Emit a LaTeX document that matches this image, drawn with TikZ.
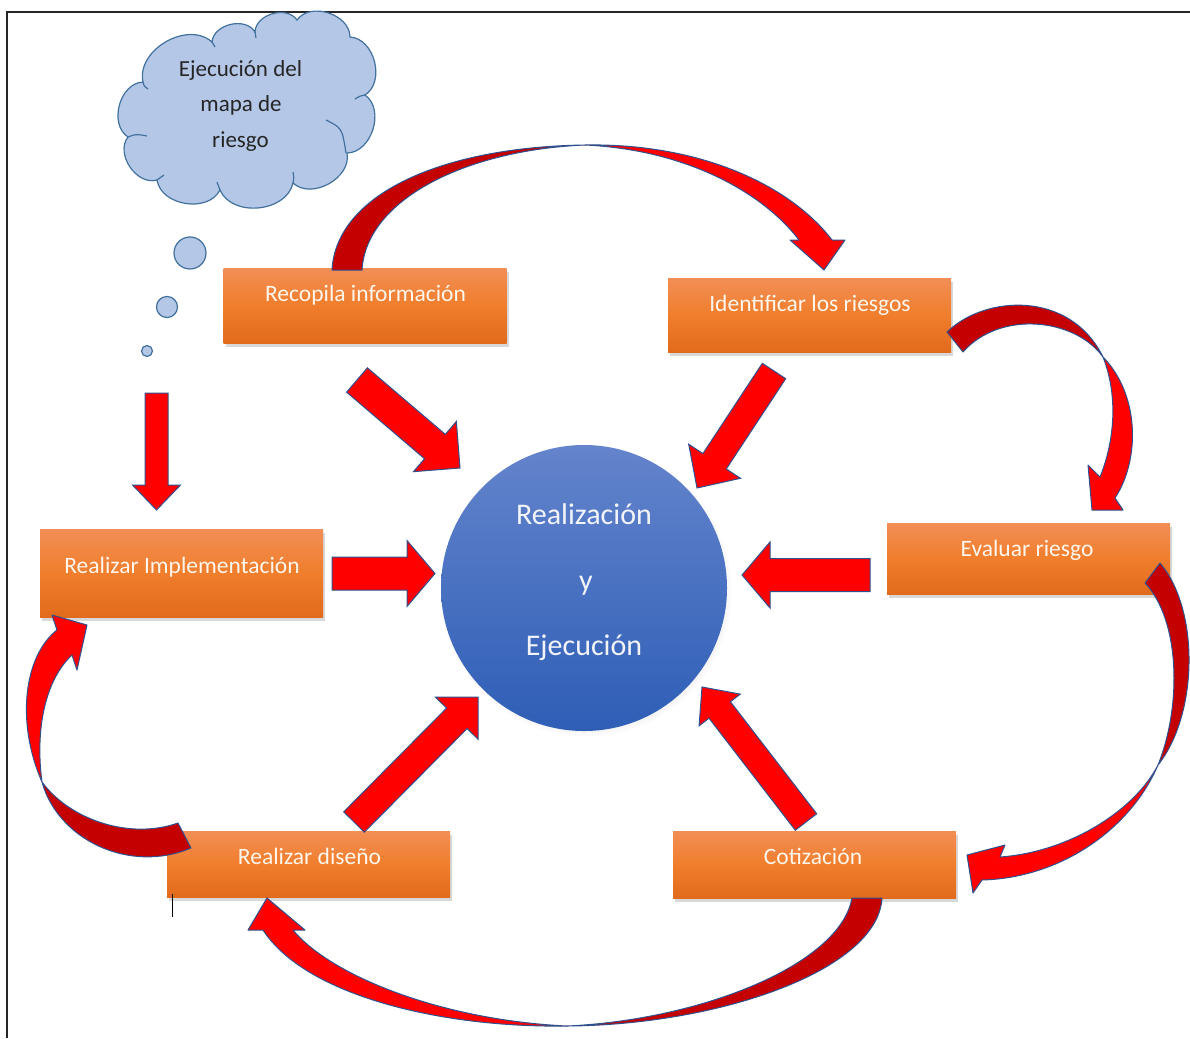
\documentclass[tikz,border=0pt]{standalone}
\usepackage{fontspec}
\setmainfont{Carlito}
\usetikzlibrary{calc,shadows}

\definecolor{boxtop}{RGB}{242,142,86}
\definecolor{boxmid}{RGB}{240,126,44}
\definecolor{boxbot}{RGB}{226,106,28}
\definecolor{boxtext}{RGB}{255,246,236}
\definecolor{arrowred}{RGB}{255,0,0}
\definecolor{arrowdark}{RGB}{196,0,0}
\definecolor{edgeblue}{RGB}{47,82,143}
\definecolor{cloudfill}{RGB}{180,199,231}
\definecolor{cloudedge}{RGB}{65,113,156}
\definecolor{hubtop}{RGB}{100,132,204}
\definecolor{hubbot}{RGB}{46,94,182}
\definecolor{hubtext}{RGB}{242,244,250}

% block arrow from #1 (tail) to #2 (tip): half shaft width, half head width, head length
\newcommand\fatarrow[5]{%
  \coordinate (fa-h) at ($(#2)!#5pt!(#1)$);
  \draw[fat] ($(#1)!#3pt!90:(#2)$) -- ($(fa-h)!#3pt!90:(#2)$) -- ($(fa-h)!#4pt!90:(#2)$)
    -- (#2) -- ($(fa-h)!#4pt!-90:(#2)$) -- ($(fa-h)!#3pt!-90:(#2)$)
    -- ($(#1)!#3pt!-90:(#2)$) -- cycle;}

\begin{document}
\begin{tikzpicture}[x=1pt,y=-1pt,
  procbox/.style={rectangle, inner sep=0pt, minimum width=283pt, minimum height=#1,
    top color=boxtop, bottom color=boxbot, middle color=boxmid,
    drop shadow={opacity=0.3, shadow xshift=2pt, shadow yshift=-4pt}},
  boxlabel/.style={anchor=base, inner sep=0pt, text=boxtext, font=\fontsize{23.5}{28}\selectfont},
  hublabel/.style={anchor=base, inner sep=0pt, text=hubtext, font=\fontsize{30}{36}\selectfont},
  cloudlabel/.style={anchor=base, inner sep=0pt, text=black!85, font=\fontsize{23}{28}\selectfont},
  fat/.style={fill=arrowred, draw=edgeblue, line width=1pt, line join=miter},
  curvedark/.style={fill=arrowdark, draw=edgeblue, line width=1pt, line join=round},
  curvebright/.style={fill=arrowred, draw=edgeblue, line width=1pt, line join=round},
  thought/.style={fill=cloudfill, draw=cloudedge, line width=1.2pt},
  crease/.style={draw=cloudedge, line width=1.2pt},
  puff/.style={bend left=72, looseness=1.05}]

\useasboundingbox (0,0) rectangle (1190,1038);
\fill[white] (0,0) rectangle (1190,1038);

% page frame
\draw[line width=2pt, black!85] (7,1038) -- (7,12) -- (1190,12);

% thought cloud and its bubbles
\draw[thought] (143,82) to[puff] (212,42) to[puff] (255,32) to[puff] (297,20)
  to[puff] (350,37) to[puff] (365,95) to[puff] (347,153) to[puff] (293,183)
  to[puff] (220,190) to[puff] (157,180) to[puff] (128,137) to[puff] (143,82) -- cycle;
% creases inside the cloud
\draw[crease] (128,137) .. controls (136,134) .. (147,136);
\draw[crease] (143,82) .. controls (144,86) .. (148,89);
\draw[crease] (212,42) .. controls (213,45) .. (215,47);
\draw[crease] (255,32) .. controls (256,35) .. (256,38);
\draw[crease] (365,95) .. controls (360,96) .. (355,99);
\draw[crease] (326,120) .. controls (342,128) .. (346,153);
\draw[crease] (293,183) .. controls (294,178) .. (293,172);
\draw[crease] (220,190) .. controls (219,186) .. (217,182);
\draw[crease] (157,180) .. controls (160,177) .. (164,175);
\node[cloudlabel] (c1) at (240.5,77) {Ejecución del};
\node[cloudlabel] (c2) at (241,112) {mapa de};
\node[cloudlabel] (c3) at (240.5,147) {riesgo};
\node[thought, circle, minimum size=32pt, inner sep=0pt] (b1) at (190,253) {};
\node[thought, circle, minimum size=21pt, inner sep=0pt] (b2) at (167,307) {};
\node[thought, circle, minimum size=11pt, inner sep=0pt] (b3) at (147,351) {};

% central hub
\node[circle, minimum size=286pt, inner sep=0pt, top color=hubtop, bottom color=hubbot,
  circular drop shadow={opacity=0.25, shadow xshift=2pt, shadow yshift=-3pt, shadow scale=1.02}]
  (hub) at (584,588) {};
\node[hublabel] (h1) at (584,524) {Realización};
\node[hublabel] (h2) at (586,590) {y};
\node[hublabel] (h3) at (584,655) {Ejecución};

% process steps
\node[procbox=75pt] (rec) at (365,305.5) {};
\node[procbox=74pt] (ide) at (809.5,315) {};
\node[procbox=71pt] (eva) at (1028.5,558.5) {};
\node[procbox=88pt] (imp) at (181.5,573) {};
\node[procbox=66pt] (dis) at (308.5,864) {};
\node[procbox=67pt] (cot) at (814.5,864.5) {};

\node[boxlabel] (recT) at (365.5,301) {Recopila información};
\node[boxlabel] (ideT) at (810,311) {Identificar los riesgos};
\node[boxlabel] (evaT) at (1027,556) {Evaluar riesgo};
\node[boxlabel] (impT) at (182,573) {Realizar Implementación};
\node[boxlabel] (disT) at (309.5,864) {Realizar diseño};
\node[boxlabel] (cotT) at (813,864) {Cotización};

% straight arrows into the hub
\coordinate (a1s) at (357,380);   \coordinate (a1e) at (460,468);
\coordinate (a2s) at (774,371);   \coordinate (a2e) at (697,488);
\coordinate (a3s) at (332,573.5); \coordinate (a3e) at (435,573.5);
\coordinate (a4s) at (870,575);   \coordinate (a4e) at (742,575);
\coordinate (a5s) at (354,822);   \coordinate (a5e) at (478,697);
\coordinate (a6s) at (806,822);   \coordinate (a6e) at (702,687);
\coordinate (a7s) at (156.5,393); \coordinate (a7e) at (156.5,510);
\fatarrow{a1s}{a1e}{16}{33}{33}
\fatarrow{a2s}{a2e}{14}{31}{32}
\fatarrow{a3s}{a3e}{16.5}{33}{28}
\fatarrow{a4s}{a4e}{16.5}{33}{28}
\fatarrow{a5s}{a5e}{14.5}{30}{30}
\fatarrow{a6s}{a6e}{13.5}{26}{29}
\fatarrow{a7s}{a7e}{11.5}{24}{25}

% curved arrows around the cycle
% Recopila -> Identificar
\draw[curvedark] (332,270) .. controls (336,195) and (440,147) .. (585,145)
  .. controls (465,150) and (366,200) .. (362,270) -- cycle;
\draw[curvebright] (585,145) .. controls (700,143) and (790,185) .. (832,240)
  -- (845,240) -- (824,270) -- (790,240) -- (799,240)
  .. controls (765,195) and (690,150) .. (585,145) -- cycle;
% Identificar -> Evaluar
\draw[curvedark] (947,332) .. controls (985,295) and (1070,290) .. (1103,357)
  .. controls (1075,318) and (1000,310) .. (963,352) -- cycle;
\draw[curvebright] (1103,357) .. controls (1140,395) and (1140,460) .. (1115,498)
  -- (1123,510) -- (1092,510) -- (1088,465) -- (1100,477)
  .. controls (1115,440) and (1118,395) .. (1103,357) -- cycle;
% Evaluar -> Cotizacion
\draw[curvedark] (1160,563) .. controls (1200,610) and (1198,715) .. (1158,765)
  .. controls (1182,705) and (1180,620) .. (1145,583) -- cycle;
\draw[curvebright] (1158,765) .. controls (1130,830) and (1060,878) .. (982,880)
  -- (973,893) -- (967,855) -- (1005,845) -- (1000,857)
  .. controls (1070,852) and (1135,810) .. (1158,765) -- cycle;
% Cotizacion -> Realizar diseno
\draw[curvedark] (882,898) .. controls (878,970) and (720,1025) .. (567,1026)
  .. controls (700,1020) and (840,965) .. (852,898) -- cycle;
\draw[curvebright] (567,1026) .. controls (440,1028) and (305,995) .. (263,930)
  -- (248,930) -- (267,898) -- (305,930) -- (293,930)
  .. controls (330,975) and (440,1020) .. (567,1026) -- cycle;
% Realizar diseno -> Realizar Implementacion
\draw[curvedark] (191,848) .. controls (130,874) and (58,840) .. (42,782)
  .. controls (70,820) and (130,840) .. (178,823) -- cycle;
\draw[curvebright] (42,782) .. controls (15,720) and (25,655) .. (57,630)
  -- (52,615) -- (87,625) -- (77,670) -- (72,655)
  .. controls (45,680) and (35,730) .. (42,782) -- cycle;

% text cursor mark
\draw[black, line width=1pt] (172,894) -- (172,917);
\end{tikzpicture}
\end{document}
